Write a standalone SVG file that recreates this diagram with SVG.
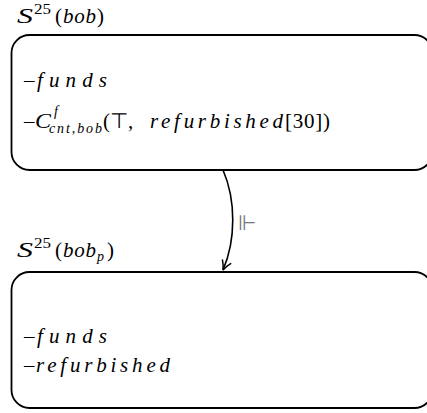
<svg xmlns="http://www.w3.org/2000/svg" width="427" height="413" viewBox="0 0 427 413">
<style>
.box{fill:none;stroke:#000;stroke-width:1.8}
.t{font-family:"Liberation Serif",serif;font-size:21px;fill:#000}
.i{font-style:italic}
.s{font-size:14px}
.lbl{font-family:"DejaVu Sans",sans-serif;font-size:21px;fill:#777}
.conn{fill:none;stroke:#000;stroke-width:1.6}
</style>
<defs>
<marker id="ah" viewBox="0 0 12 12" refX="10" refY="6" markerWidth="12" markerHeight="12" markerUnits="userSpaceOnUse" orient="auto">
<path d="M1,1.5 Q6,5 10,6 Q6,7 1,10.5" fill="none" stroke="#000" stroke-width="1.5" stroke-linecap="round"/>
</marker>
</defs>
<g id="node-top">
<text class="t" y="23"><tspan class="i" x="17" textLength="16" lengthAdjust="spacingAndGlyphs">S</tspan><tspan class="s" x="34" y="14" textLength="17" lengthAdjust="spacingAndGlyphs">25</tspan><tspan x="55" y="23">(</tspan><tspan class="i" x="63" textLength="33">bob</tspan><tspan x="97">)</tspan></text>
<rect class="box" x="11.5" y="35" width="421" height="135" rx="18"/>
<text class="t" y="87"><tspan x="24">–</tspan><tspan class="i" x="37" textLength="70">funds</tspan></text>
<text class="t" y="128"><tspan x="24">–</tspan><tspan class="i" x="35" textLength="16" lengthAdjust="spacingAndGlyphs">C</tspan><tspan class="s i" x="54" y="116">f</tspan><tspan class="s i" x="49" y="133" textLength="53">cnt,bob</tspan><tspan x="103" y="128">(⊤, </tspan><tspan class="i" x="150" textLength="133">refurbished</tspan><tspan x="285" textLength="45">[30])</tspan></text>
</g>
<g id="node-bottom">
<text class="t" y="257"><tspan class="i" x="17" textLength="16" lengthAdjust="spacingAndGlyphs">S</tspan><tspan class="s" x="34" y="248" textLength="17" lengthAdjust="spacingAndGlyphs">25</tspan><tspan x="55" y="257">(</tspan><tspan class="i" x="63" textLength="33">bob</tspan><tspan class="s i" x="97" y="261">p</tspan><tspan x="107" y="257">)</tspan></text>
<rect class="box" x="11.5" y="272" width="421" height="136" rx="18"/>
<text class="t" y="343"><tspan x="24">–</tspan><tspan class="i" x="37" textLength="70">funds</tspan></text>
<text class="t" y="372"><tspan x="24">–</tspan><tspan class="i" x="36" textLength="134">refurbished</tspan></text>
</g>
<g id="connectors">
<path class="conn" d="M223,170 C236,200 236,240 223,270" marker-end="url(#ah)"/>
<text class="lbl" x="238" y="230">⊩</text>
</g>
</svg>
